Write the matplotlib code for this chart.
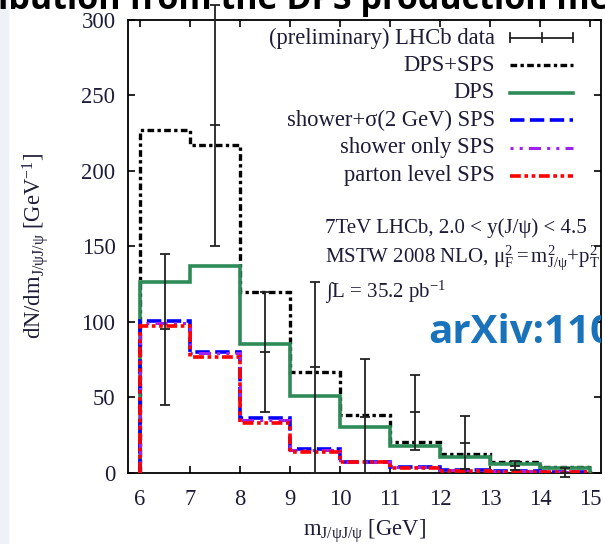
import numpy as np
import matplotlib
matplotlib.use("Agg")
import matplotlib.pyplot as plt
from matplotlib.patches import Rectangle

# --- data -------------------------------------------------------------
bin_edges = [6, 7, 8, 9, 10, 11, 12, 13, 14, 15]

dps_plus_sps = [227, 217, 120, 67, 38, 20.5, 12.2, 7.0, 4.0]
dps = [126.5, 137, 85, 50.8, 30.5, 17.7, 10.6, 5.8, 3.2]
shower_sigma_sps = [100.2, 79.7, 36.0, 15.7, 7.3, 4.0, 1.6, 0.9, 0.5]
shower_only_sps = [99.2, 79.0, 35.0, 15.3, 7.1, 3.8, 1.5, 0.8, 0.5]
parton_sps = [97.0, 76.5, 33.0, 14.0, 6.8, 3.0, 1.4, 0.7, 0.4]

data_x = [6.5, 7.5, 8.5, 9.5, 10.5, 11.5, 12.5, 13.5, 14.5]
data_y = [95, 230, 80, 70, 37, 40, 20, 4.5, 0.0]
data_err_lo = [50, 80, 40, 70, 37, 25, 17.5, 3, 3]
data_err_hi = [50, 80, 40, 56, 38, 25, 17.5, 3, 3]

x_ticks = [6, 7, 8, 9, 10, 11, 12, 13, 14, 15]
y_ticks = [0, 50, 100, 150, 200, 250, 300]

# --- style ------------------------------------------------------------
plt.rcParams["font.family"] = ["Liberation Serif", "DejaVu Serif"]
plt.rcParams["mathtext.fontset"] = "custom"
plt.rcParams["mathtext.rm"] = "Liberation Serif"
plt.rcParams["mathtext.it"] = "Liberation Serif:italic"
plt.rcParams["mathtext.bf"] = "Liberation Serif:bold"

TXT = "#1c1c38"
FS = 16.3
FS_INFO = 15

fig = plt.figure(figsize=(6.05, 5.44), dpi=100)
fig.patches.append(Rectangle((0, 0), 8 / 605, 1, transform=fig.transFigure,
                             color="#eef2f8", zorder=0))

ax = fig.add_axes([128 / 605, 1 - 472.7 / 544, (601 - 128) / 605,
                   (472.7 - 19.7) / 544])
ax.set_xlim(5.76, 15.22)
ax.set_ylim(0, 300)

# histograms
ax.stairs(dps_plus_sps, bin_edges, baseline=0, color="black", lw=2.4,
          linestyle=(0, (2.0, 1.0, 1.0, 1.0)), zorder=3)
ax.stairs(dps, bin_edges, baseline=0, color="#2e8b57", lw=2.6, zorder=4)
ax.stairs(shower_sigma_sps, bin_edges, baseline=0, color="#0000ff", lw=2.6,
          linestyle=(0, (4, 1.5)), zorder=5)
ax.stairs(shower_only_sps, bin_edges, baseline=0, color="#a020f0", lw=2.2,
          linestyle=(0, (1, 2, 1, 2, 4, 2)), zorder=6)
ax.stairs(parton_sps, bin_edges, baseline=0, color="#ff0000", lw=2.6,
          linestyle=(0, (3, 1, 1, 1, 1, 1)), zorder=7)

# measured points
ax.errorbar(data_x, data_y, yerr=[data_err_lo, data_err_hi], fmt="_",
            ms=7, mew=1.3, color="#222222", ecolor="#222222", elinewidth=1.3,
            capsize=3.6, capthick=1.3, zorder=8, clip_on=False)

# axes decoration
ax.set_xticks(x_ticks)
ax.set_yticks(y_ticks)
ax.tick_params(direction="in", length=5, width=1.2, top=True, right=True,
               labelsize=FS, colors="black", labelcolor=TXT)
ax.tick_params(axis="x", pad=12)
ax.tick_params(axis="y", pad=9)
for s in ax.spines.values():
    s.set_linewidth(1.3)

ax.set_xlabel(r"$\mathrm{m_{J/ψJ/ψ}}$ [GeV]", fontsize=FS, color=TXT,
              labelpad=5)
ax.set_ylabel(r"$\mathrm{dN/dm_{J/ψJ/ψ}}$ [GeV$^{\mathrm{-1}}$]", fontsize=FS,
              color=TXT, labelpad=22)

# legend drawn in axes coordinates
def px2ax(x, y):
    return (x - 128) / (601 - 128), (472.7 - y) / (472.7 - 19.7)

legend_rows = [
    "(preliminary) LHCb data",
    "DPS+SPS",
    "DPS",
    "shower+σ(2 GeV) SPS",
    "shower only SPS",
    "parton level SPS",
]
row_y = [38, 65.5, 93, 120.5, 148, 176]
styles = [
    None,
    dict(color="black", lw=2.4, linestyle=(0, (2.0, 1.0, 1.0, 1.0))),
    dict(color="#2e8b57", lw=2.6),
    dict(color="#0000ff", lw=2.6, linestyle=(0, (4, 1.5))),
    dict(color="#a020f0", lw=2.2, linestyle=(0, (1, 2, 1, 2, 4, 2))),
    dict(color="#ff0000", lw=2.6, linestyle=(0, (3, 1, 1, 1, 1, 1))),
]
x0, x1 = 510, 573
for label, yy, st in zip(legend_rows, row_y, styles):
    tx, ty = px2ax(495, yy)
    ax.text(tx, ty, label, transform=ax.transAxes, ha="right", va="center",
            fontsize=FS, color=TXT)
    (ax0, ay), (ax1, _) = px2ax(x0, yy), px2ax(x1, yy)
    if st is None:
        ax.plot([ax0, ax1], [ay, ay], transform=ax.transAxes, color="#222222",
                lw=1.3)
        for xx in (x0, (x0 + x1) / 2, x1):
            xa, _ = px2ax(xx, yy)
            _, ya0 = px2ax(xx, yy - 4.5)
            _, ya1 = px2ax(xx, yy + 4.5)
            ax.plot([xa, xa], [ya0, ya1], transform=ax.transAxes,
                    color="#222222", lw=1.3)
    else:
        ax.plot([ax0, ax1], [ay, ay], transform=ax.transAxes, **st)

# process description
info = [
    (233, "7TeV LHCb, 2.0 < y(J/ψ) < 4.5"),
    (263, r"MSTW 2008 NLO, $\mathrm{μ_F^2{=}m_{J/ψ}^2{+}p_T^2}$"),
    (298, r"∫L = 35.2 pb$^{\mathrm{-1}}$"),
]
for yy, s in info:
    tx, ty = px2ax(325, yy)
    ax.text(tx, ty, s, transform=ax.transAxes, ha="left", va="baseline",
            fontsize=FS_INFO, color=TXT)

# slide overlays
fig.text(-0.003, 1 - 9 / 544, "ibution from the DPS production me",
         fontsize=24.5, fontweight="bold", family="Open Sans", color="black",
         ha="left", va="baseline")
clip_box = Rectangle((0, 0), 601 / 605, 1, transform=fig.transFigure,
                     visible=False)
fig.patches.append(clip_box)
tag = fig.text(428 / 605, 1 - 343 / 544, "arXiv:1106.5545",
               fontsize=29, fontweight="bold", family="Open Sans",
               color="#1a72bb", ha="left", va="baseline")
tag.set_clip_path(clip_box)

fig.savefig("out.png", dpi=100)
